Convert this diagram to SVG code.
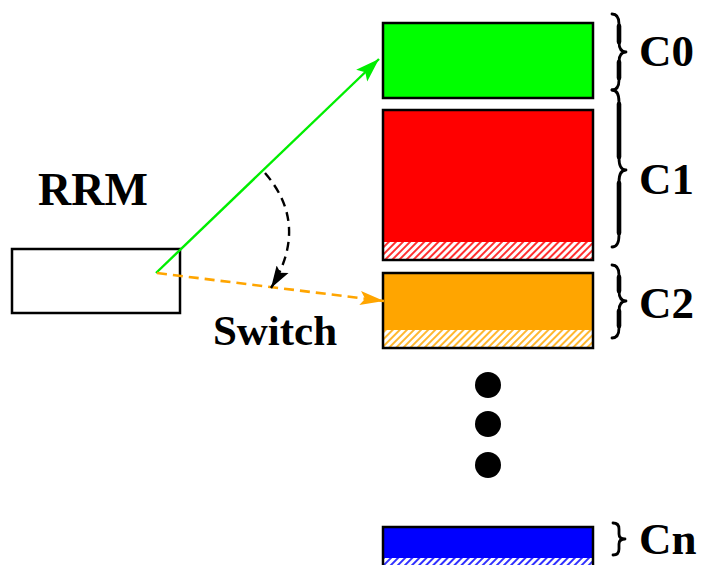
<svg xmlns="http://www.w3.org/2000/svg" width="705" height="565" viewBox="0 0 705 565">
  <style>
    .label { font-family: "Liberation Serif", "Times New Roman", serif; font-weight: bold; fill: #000; }
    .box { stroke: #000; stroke-width: 2.5; }
    .brace { fill: none; stroke: #000; stroke-width: 2.8; stroke-linecap: round; stroke-linejoin: round; }
    .brace-body { fill: none; stroke: #000; stroke-width: 4.6; stroke-linecap: round; }
    .dot { fill: #000; }
  </style>
  <defs>
    <pattern id="hatch-red" width="5" height="5" patternUnits="userSpaceOnUse" patternTransform="rotate(45)">
      <rect width="5" height="5" fill="#fff"/>
      <rect width="2" height="5" fill="#ff3030"/>
    </pattern>
    <pattern id="hatch-orange" width="5" height="5" patternUnits="userSpaceOnUse" patternTransform="rotate(45)">
      <rect width="5" height="5" fill="#fff"/>
      <rect width="2" height="5" fill="#ffb830"/>
    </pattern>
    <pattern id="hatch-blue" width="5" height="5" patternUnits="userSpaceOnUse" patternTransform="rotate(45)">
      <rect width="5" height="5" fill="#fff"/>
      <rect width="2" height="5" fill="#3030ff"/>
    </pattern>
    <marker id="arrow-green" markerWidth="26" markerHeight="18" refX="24" refY="9" orient="auto" markerUnits="userSpaceOnUse">
      <path d="M0,1 L24,9 L0,17 L5,9 Z" fill="#00ee00"/>
    </marker>
    <marker id="arrow-orange" markerWidth="26" markerHeight="18" refX="24" refY="9" orient="auto" markerUnits="userSpaceOnUse">
      <path d="M0,2 L24,9 L0,16 L5,9 Z" fill="#ffa500"/>
    </marker>
    <marker id="arrow-black" markerWidth="24" markerHeight="18" refX="22" refY="9" orient="auto" markerUnits="userSpaceOnUse">
      <path d="M0,2 L22,9 L0,16 L4,9 Z" fill="#000"/>
    </marker>
  </defs>

  <rect width="705" height="565" fill="#fff"/>

  <!-- resource manager -->
  <g id="rrm">
    <rect x="12" y="249" width="168" height="64" fill="#fff" stroke="#000" stroke-width="2.5"/>
    <text class="label" x="93" y="205" font-size="46" text-anchor="middle">RRM</text>
  </g>

  <!-- channel blocks -->
  <g id="c0">
    <rect class="box" x="383" y="23" width="210" height="75" fill="#00ff00"/>
    <path class="brace" d="M612,14 Q619,14 619,24 L619,42 Q619,52 626,52 Q619,52 619,62 L619,80 Q619,90 612,90"/>
    <path class="brace-body" d="M619,26 L619,42 M619,62 L619,78"/>
    <text class="label" x="639" y="66" font-size="45">C0</text>
  </g>

  <g id="c1">
    <rect x="383" y="110" width="210" height="150" fill="#ff0000"/>
    <rect x="383" y="242" width="210" height="18" fill="url(#hatch-red)"/>
    <rect x="383" y="110" width="210" height="150" fill="none" stroke="#000" stroke-width="2.5"/>
    <path class="brace" d="M612,90 Q619,90 619,102 L619,158 Q619,170 626,170 Q619,170 619,182 L619,235 Q619,247 612,247"/>
    <path class="brace-body" d="M619,104 L619,157 M619,183 L619,233"/>
    <text class="label" x="639" y="194" font-size="45">C1</text>
  </g>

  <g id="c2">
    <rect x="383" y="273" width="210" height="75" fill="#ffa500"/>
    <rect x="383" y="330" width="210" height="18" fill="url(#hatch-orange)"/>
    <rect x="383" y="273" width="210" height="75" fill="none" stroke="#000" stroke-width="2.5"/>
    <path class="brace" d="M612,265 Q619,265 619,275 L619,291 Q619,301 626,301 Q619,301 619,311 L619,328 Q619,338 612,338"/>
    <path class="brace-body" d="M619,277 L619,291 M619,311 L619,326"/>
    <text class="label" x="639" y="318" font-size="45">C2</text>
  </g>

  <g id="ellipsis">
    <circle class="dot" cx="488" cy="385" r="13"/>
    <circle class="dot" cx="488" cy="424" r="13"/>
    <circle class="dot" cx="488" cy="465" r="13"/>
  </g>

  <g id="cn">
    <rect x="383" y="527" width="210" height="40" fill="#0000ff"/>
    <rect x="383" y="558" width="210" height="9" fill="url(#hatch-blue)"/>
    <rect x="383" y="527" width="210" height="40" fill="none" stroke="#000" stroke-width="2.5"/>
    <path class="brace" d="M613,523 Q619,523 619,529 L619,534 Q619,539 625,539 Q619,539 619,544 L619,549 Q619,555 613,555"/>
    <text class="label" x="639" y="554" font-size="45">Cn</text>
  </g>

  <!-- connectors -->
  <g id="connectors">
    <line x1="156" y1="273" x2="379" y2="59" stroke="#00ee00" stroke-width="2.4" marker-end="url(#arrow-green)"/>
    <line x1="157" y1="273" x2="384" y2="301" stroke="#ffa500" stroke-width="2.6" stroke-dasharray="10,6" marker-end="url(#arrow-orange)"/>
    <path d="M265,173 Q310,225 271,288" fill="none" stroke="#000" stroke-width="2.4" stroke-dasharray="9,6" marker-end="url(#arrow-black)"/>
    <text class="label" x="275" y="345" font-size="43" text-anchor="middle">Switch</text>
  </g>
</svg>
